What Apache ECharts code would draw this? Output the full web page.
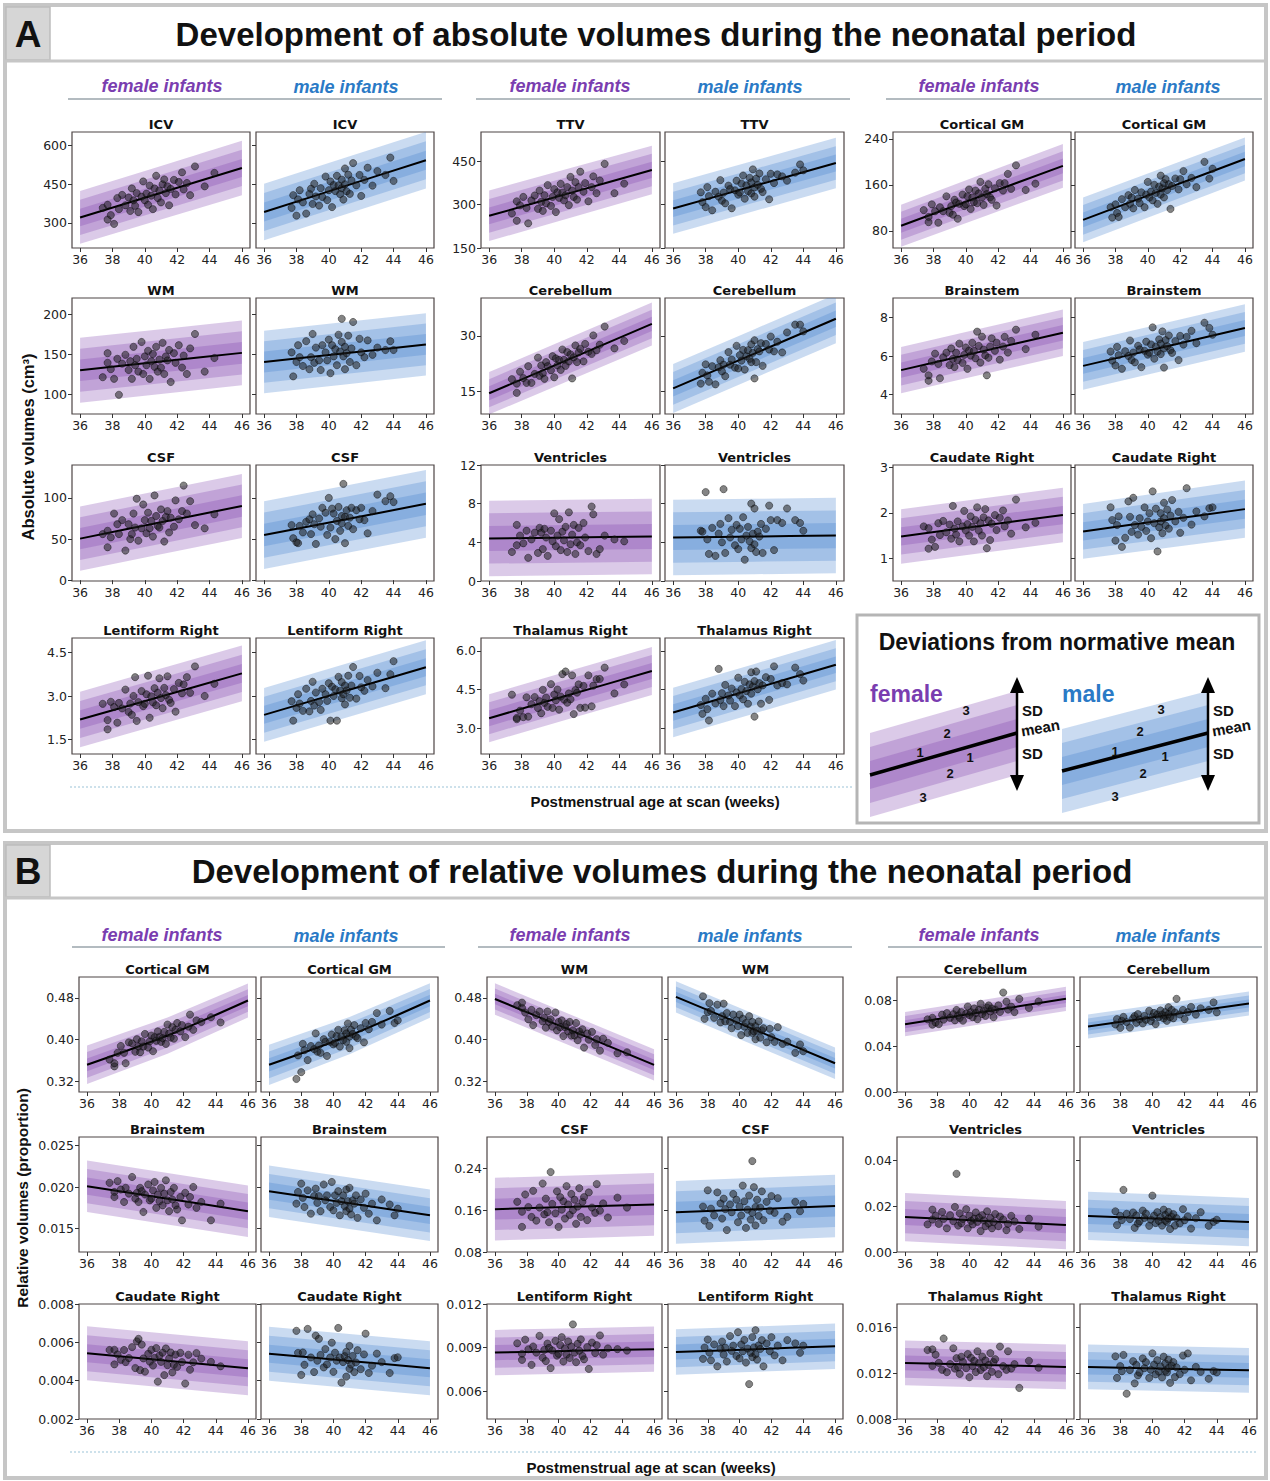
<!DOCTYPE html>
<html><head><meta charset="utf-8">
<script src="https://cdn.jsdelivr.net/npm/echarts@6/dist/echarts.min.js"></script>
<style>html,body{margin:0;padding:0;background:#fff}#c{width:1270px;height:1481px}</style>
</head><body><div id="c"></div>
<script>
// ---------------- DATA ----------------
const xTicks = [36, 38, 40, 42, 44, 46];
const femaleAge = [37.4,37.7,37.7,37.9,38.1,38.3,38.4,38.6,38.8,39.0,39.1,39.2,39.3,39.4,39.5,39.6,39.8,39.9,40.0,40.1,40.2,40.3,40.4,40.5,40.6,40.7,40.8,40.9,41.0,41.1,41.2,41.3,41.4,41.5,41.6,41.8,41.9,42.1,42.3,42.4,42.6,42.8,43.1,43.7,44.3];
const maleAge = [37.7,37.8,38.0,38.1,38.2,38.4,38.6,38.8,38.9,39.0,39.1,39.2,39.4,39.5,39.6,39.8,39.9,40.0,40.1,40.2,40.3,40.4,40.5,40.6,40.7,40.8,40.8,40.9,41.0,41.0,41.1,41.2,41.3,41.4,41.5,41.7,41.9,42.0,42.2,42.4,42.7,43.0,43.5,43.8,44.0];

// Panel A : absolute volumes
const regionsA = ['ICV','TTV','Cortical GM','WM','Cerebellum','Brainstem','CSF','Ventricles','Caudate Right','Lentiform Right','Thalamus Right'];
const yMinA = [203,150,50,75,8.9,3,-1,0,0.5,1.0,2.0];
const yMaxA = [651,550,252,220,40.2,9,140,12,3.05,5.0,6.5];
const yTicksA = [[300,450,600],[150,300,450],[80,160,240],[100,150,200],[15,30],[4,6,8],[0,50,100],[0,4,8,12],[1,2,3],[1.5,3.0,4.5],[3.0,4.5,6.0]];
const yDecA = [0,0,0,0,0,0,0,0,0,1,1];
// normative mean at 36 / 41 / 46 weeks, SD at 36 / 46 weeks
const meanA_F = [[321,416.5,512],[261,340,419],[88.7,141,193],[129.7,140.5,151.4],[14.5,23.85,33.2],[5.27,6.24,7.2],[50.5,70.4,90.2],[4.4,4.5,4.6],[1.48,1.715,1.95],[2.19,2.985,3.78],[3.39,4.305,5.22]];
const sdA_F = [[34,35],[29,28],[12.2,12.7],[13.5,13.5],[1.9,1.93],[0.4,0.4],[13,13],[1.3,1.3],[0.2,0.2],[0.32,0.32],[0.31,0.31]];
const meanA_M = [[342,442,542],[286,364.5,443],[99,152,205],[140,151,162],[15.8,25.2,34.6],[5.49,6.47,7.45],[54.8,73.8,92.8],[4.5,4.6,4.7],[1.59,1.835,2.08],[2.35,3.17,3.99],[3.61,4.535,5.46]];
const sdA_M = [[36.5,36.5],[29,29],[13,12.5],[13,13],[2.2,2.2],[0.41,0.41],[13.7,13.7],[1.3,1.3],[0.2,0.21],[0.31,0.31],[0.32,0.32]];

const absF_ICV = [358,313,370,330,296,396,353,408,368,398,346,433,387,366,415,342,401,460,387,413,370,444,405,353,433,482,396,425,379,449,468,415,441,368,431,466,410,458,495,429,454,407,518,441,493];
const absM_ICV = [358,407,328,391,426,379,336,412,432,373,451,402,367,434,400,479,388,426,460,361,446,423,482,445,411,434,467,390,510,449,422,486,412,464,531,445,485,404,466,513,444,500,485,552,462];
const absF_TTV = [269,311,244,297,326,288,235,314,331,285,348,309,278,332,304,367,295,326,353,274,342,323,371,341,314,332,360,298,395,348,326,377,317,360,413,344,374,311,360,397,339,383,440,339,372];
const absM_TTV = [342,308,291,360,329,280,344,327,384,313,341,304,365,353,287,349,382,334,341,372,400,320,366,346,392,338,376,421,359,327,389,368,407,354,343,387,318,406,374,404,397,382,410,438,418];
const absF_CGM = [116,104,95,126,114,94,121,114,140,111,123,108,134,129,101,127,143,123,126,140,152,118,138,130,150,128,145,165,138,125,153,144,161,138,134,154,124,163,150,163,179,153,194,151,162];
const absM_CGM = [121,103,126,111,104,135,121,142,127,138,119,151,136,128,147,121,143,165,138,148,133,160,146,127,157,176,143,154,138,163,170,151,161,118,158,171,152,170,184,161,172,156,200,171,188];
const absF_WM = [121,139,151,131,119,144,99,138,149,130,141,119,159,136,144,128,165,125,147,136,154,119,141,150,134,159,128,143,133,164,125,147,142,155,115,151,139,161,133,148,125,157,175,128,145];
const absM_WM = [152,122,140,161,146,135,166,131,146,175,139,158,142,130,161,152,142,168,126,161,147,156,136,174,153,194,165,147,159,131,151,173,140,157,190,136,169,152,146,167,149,158,155,166,155];
const absF_Cereb = [18.3,14.6,17.1,20.3,18.6,17.3,21.8,17.3,19.7,24.1,19.2,22.0,19.9,18.4,22.9,21.8,20.7,24.5,18.8,23.9,22.0,23.5,20.8,26.3,23.5,21.9,25.6,23.1,25.0,18.5,24.2,27.4,22.9,25.5,26.5,23.1,27.8,25.7,25.1,30.1,26.1,27.6,32.5,26.6,28.6];
const absM_Cereb = [17.1,20.0,22.3,19.3,17.6,21.8,16.9,21.5,23.4,20.4,22.2,19.1,25.6,22.2,23.6,21.4,27.3,21.2,24.8,23.3,26.2,20.9,24.5,26.1,23.8,27.7,22.9,25.4,18.5,28.8,22.9,26.4,25.8,28.0,21.9,27.8,26.3,29.8,25.8,28.4,25.5,30.9,33.0,33.0,31.2];
const absF_Brainstem = [5.34,4.72,5.0,5.72,6.12,5.59,4.85,5.93,6.17,5.53,6.39,5.85,5.43,6.17,5.79,6.64,5.64,6.06,6.44,5.34,6.28,6.02,6.68,6.26,5.88,7.26,6.52,5.66,7.0,6.33,6.03,5.0,5.91,6.49,6.91,6.27,6.69,5.81,6.49,6.99,6.18,6.78,7.36,6.36,7.1];
const absM_Brainstem = [6.23,5.76,5.51,6.47,6.04,5.34,6.25,6.0,6.8,5.79,6.18,5.67,6.53,6.34,5.42,6.27,6.74,6.07,6.17,6.6,7.48,5.86,6.49,6.23,6.86,6.1,6.64,7.27,6.39,5.4,6.82,6.51,7.06,6.3,6.16,6.77,5.79,7.04,6.59,6.99,7.3,6.66,7.72,7.45,7.1];
const absF_CSF = [56,40,60,52,81,68,56,73,36,68,50,56,81,64,99,48,63,92,73,57,82,63,72,53,103,78,66,64,86,72,47,77,84,58,76,65,97,74,84,115,81,96,67,63,80];
const absM_CSF = [67,51,46,45,66,58,71,74,56,80,68,44,75,65,88,82,55,100,64,87,81,50,72,89,60,78,69,117,77,45,85,66,76,88,62,85,74,88,73,57,84,104,96,102,95];
const absF_Vent = [3.0,5.8,3.7,4.7,3.9,5.2,2.4,4.3,5.0,2.9,5.5,5.0,3.3,5.4,4.5,2.6,5.2,4.1,7.0,3.6,4.7,6.4,3.2,5.1,4.2,5.6,3.0,7.1,3.8,4.8,5.8,2.8,4.0,5.5,3.7,6.0,4.5,3.1,7.7,6.9,2.8,3.3,4.7,4.3,4.1];
const absM_Vent = [5.2,5.1,9.2,4.3,2.8,5.5,2.6,4.9,5.9,4.0,9.5,2.9,6.5,4.5,5.3,3.7,5.8,3.3,5.4,4.3,6.6,2.2,4.7,5.6,4.1,8.0,3.4,4.9,3.8,7.5,3.0,5.1,4.6,5.9,2.9,5.4,7.8,6.3,3.2,6.3,6.0,7.5,6.3,6.0,5.2];
const absF_Caud = [1.70,1.21,1.66,1.41,1.25,1.77,1.51,1.82,1.57,1.74,1.43,2.15,1.65,1.52,1.81,1.37,1.70,2.04,1.61,1.75,1.50,1.92,1.69,1.37,1.84,2.12,1.61,1.77,1.50,1.90,2.08,1.22,1.83,1.40,1.76,1.95,1.62,1.89,2.05,1.70,1.83,1.54,2.29,1.68,1.78];
const absM_Caud = [2.12,1.84,1.39,1.73,1.92,1.25,1.45,2.25,1.91,1.58,2.33,1.73,1.52,1.88,1.69,2.12,1.60,1.81,1.99,1.44,2.47,1.77,2.09,1.15,1.68,1.81,1.99,1.55,2.22,1.88,1.72,2.07,1.65,1.94,2.28,1.81,2.02,1.56,1.89,2.54,1.74,2.03,1.92,2.10,2.12];
const absF_Lent = [2.73,1.85,2.17,2.80,2.62,2.08,2.76,2.57,3.22,2.45,2.74,2.35,3.00,3.65,2.14,2.79,3.17,2.65,2.73,3.06,3.70,2.25,2.99,2.78,3.27,2.68,3.11,3.61,2.93,2.58,3.28,3.03,3.68,2.87,2.76,3.24,2.46,3.45,3.09,3.40,3.65,3.11,4.02,3.00,3.42];
const absM_Lent = [2.82,2.15,2.59,3.06,2.74,2.49,3.25,2.47,2.83,3.49,2.67,3.12,2.79,2.52,3.25,3.06,2.83,3.44,2.15,3.32,3.00,3.23,2.15,3.66,3.18,2.92,3.48,3.06,3.36,2.71,3.19,3.70,2.94,3.36,4.00,2.91,3.69,3.30,3.18,3.55,3.33,3.80,3.27,3.75,4.20];
const absF_Thal = [4.30,3.35,3.40,3.68,3.43,4.20,3.45,3.93,4.21,3.78,4.05,3.58,4.49,3.98,4.19,3.83,4.71,3.79,4.31,4.08,4.50,3.72,4.23,5.10,4.11,5.20,3.99,4.35,4.12,5.05,3.55,4.48,4.38,4.70,3.79,4.64,3.80,5.05,3.85,4.65,4.90,4.91,5.35,4.35,4.70];
const absM_Thal = [3.90,3.56,4.14,3.74,3.30,4.34,3.96,5.30,4.09,4.36,3.86,4.68,4.27,4.07,4.54,3.86,4.39,4.96,4.27,4.52,4.12,4.80,4.44,3.95,4.70,5.17,4.34,4.62,3.45,4.83,5.20,4.51,4.75,3.95,4.66,4.98,4.10,4.91,5.40,4.66,4.75,4.70,5.35,5.10,4.85];
const absFemale = [absF_ICV,absF_TTV,absF_CGM,absF_WM,absF_Cereb,absF_Brainstem,absF_CSF,absF_Vent,absF_Caud,absF_Lent,absF_Thal];
const absMale = [absM_ICV,absM_TTV,absM_CGM,absM_WM,absM_Cereb,absM_Brainstem,absM_CSF,absM_Vent,absM_Caud,absM_Lent,absM_Thal];

// Panel B : relative volumes
const regionsB = ['Cortical GM','WM','Cerebellum','Brainstem','CSF','Ventricles','Caudate Right','Lentiform Right','Thalamus Right'];
const yMinB = [0.30,0.30,0,0.0122,0.08,0,0.002,0.0041,0.008];
const yMaxB = [0.52,0.52,0.10,0.026,0.30,0.05,0.008,0.012,0.018];
const yTicksB = [[0.32,0.40,0.48],[0.32,0.40,0.48],[0,0.04,0.08],[0.015,0.020,0.025],[0.08,0.16,0.24],[0,0.02,0.04],[0.002,0.004,0.006,0.008],[0.006,0.009,0.012],[0.008,0.012,0.016]];
const yDecB = [2,2,2,3,2,2,3,3,3];
const meanB_F = [[0.352,0.408,0.475],[0.478,0.415,0.352],[0.059,0.070,0.081],[0.0201,0.0186,0.0171],[0.162,0.1665,0.171],[0.0152,0.01345,0.0117],[0.00543,0.00504,0.00465],[0.00866,0.00878,0.0089],[0.01288,0.0127,0.01253]];
const sdB_F = [[0.0123,0.0108],[0.010,0.010],[0.0035,0.0035],[0.00103,0.00103],[0.020,0.020],[0.0035,0.0035],[0.00047,0.00047],[0.00052,0.00052],[0.00065,0.00065]];
const meanB_M = [[0.352,0.408,0.475],[0.482,0.4185,0.355],[0.057,0.067,0.077],[0.0195,0.01805,0.0166],[0.156,0.162,0.168],[0.0157,0.01435,0.013],[0.0054,0.00503,0.00465],[0.0087,0.0089,0.0091],[0.01253,0.01238,0.01223]];
const sdB_M = [[0.0128,0.011],[0.010,0.010],[0.0035,0.0035],[0.00103,0.00103],[0.020,0.020],[0.0035,0.0035],[0.00047,0.00047],[0.00052,0.00052],[0.00065,0.00065]];

const relF_CGM = [0.362,0.349,0.355,0.375,0.388,0.375,0.355,0.395,0.393,0.377,0.401,0.387,0.376,0.397,0.387,0.411,0.385,0.397,0.408,0.378,0.405,0.398,0.416,0.405,0.396,0.403,0.415,0.392,0.429,0.412,0.404,0.424,0.402,0.419,0.432,0.416,0.428,0.405,0.425,0.448,0.419,0.437,0.434,0.443,0.433];
const relM_CGM = [0.325,0.370,0.338,0.392,0.380,0.361,0.388,0.382,0.412,0.377,0.389,0.375,0.401,0.396,0.369,0.396,0.410,0.391,0.394,0.407,0.419,0.387,0.406,0.399,0.418,0.396,0.412,0.431,0.406,0.384,0.419,0.411,0.428,0.406,0.403,0.422,0.395,0.432,0.420,0.434,0.451,0.429,0.455,0.432,0.437];
const relF_WM = [0.466,0.461,0.471,0.452,0.439,0.457,0.428,0.447,0.454,0.435,0.442,0.423,0.454,0.434,0.439,0.425,0.452,0.418,0.434,0.424,0.437,0.407,0.424,0.430,0.416,0.434,0.408,0.418,0.408,0.432,0.399,0.416,0.410,0.420,0.385,0.412,0.400,0.415,0.390,0.401,0.379,0.402,0.394,0.374,0.376];
const relM_WM = [0.483,0.440,0.453,0.470,0.455,0.442,0.467,0.433,0.445,0.469,0.435,0.451,0.434,0.422,0.448,0.437,0.426,0.448,0.409,0.440,0.425,0.432,0.413,0.445,0.425,0.413,0.434,0.416,0.426,0.401,0.417,0.435,0.404,0.418,0.422,0.395,0.421,0.405,0.396,0.424,0.392,0.396,0.375,0.391,0.378];
const relF_Cereb = [0.0632,0.0585,0.0645,0.0604,0.059,0.0672,0.0629,0.0686,0.0645,0.0677,0.0623,0.0713,0.0666,0.0644,0.0695,0.0620,0.0681,0.0743,0.0668,0.0694,0.0651,0.0727,0.0687,0.0633,0.0716,0.0767,0.0678,0.0708,0.0662,0.0734,0.0753,0.0700,0.0726,0.0651,0.0717,0.0753,0.0696,0.0865,0.0785,0.0717,0.0742,0.0695,0.0809,0.0731,0.0787];
const relM_Cereb = [0.0587,0.0634,0.0558,0.0619,0.0653,0.0608,0.056,0.0640,0.0660,0.0602,0.0678,0.0631,0.0596,0.0661,0.0628,0.0706,0.0617,0.0654,0.0687,0.0591,0.0674,0.0651,0.0709,0.0673,0.0640,0.0663,0.0694,0.0619,0.0737,0.0677,0.0651,0.0713,0.0641,0.0692,0.081,0.0674,0.0713,0.0634,0.0694,0.0740,0.0673,0.0728,0.0713,0.0779,0.0692];
const relF_Brainstem = [0.0205,0.0194,0.0188,0.0207,0.0197,0.0182,0.0199,0.0192,0.0212,0.0186,0.0193,0.0182,0.0199,0.0195,0.0170,0.0191,0.0203,0.0184,0.0186,0.0196,0.0206,0.0175,0.0191,0.0183,0.0199,0.0178,0.0192,0.0208,0.0184,0.0171,0.0194,0.0185,0.0199,0.0178,0.0173,0.0188,0.0160,0.0193,0.0179,0.0188,0.0200,0.0175,0.0182,0.0160,0.0180];
const relM_Brainstem = [0.0180,0.0194,0.0204,0.0187,0.0176,0.0196,0.0168,0.0189,0.0198,0.0181,0.0189,0.0171,0.0203,0.0184,0.0190,0.0176,0.0206,0.0172,0.0190,0.0181,0.0195,0.0166,0.0183,0.0190,0.0177,0.0197,0.0171,0.0183,0.0174,0.0199,0.0167,0.0184,0.0180,0.0190,0.0163,0.0185,0.0175,0.0192,0.0168,0.0180,0.0160,0.0185,0.0179,0.0166,0.0174];
const relF_CSF = [0.176,0.128,0.157,0.190,0.166,0.147,0.197,0.140,0.165,0.211,0.152,0.182,0.156,0.137,0.233,0.172,0.154,0.196,0.128,0.185,0.161,0.177,0.144,0.206,0.171,0.151,0.191,0.160,0.180,0.134,0.167,0.202,0.147,0.176,0.185,0.141,0.194,0.165,0.155,0.210,0.159,0.173,0.146,0.184,0.165];
const relM_CSF = [0.167,0.140,0.198,0.130,0.163,0.150,0.194,0.173,0.144,0.182,0.162,0.122,0.171,0.156,0.191,0.180,0.137,0.167,0.150,0.207,0.177,0.126,0.161,0.188,0.142,0.254,0.155,0.204,0.166,0.131,0.180,0.149,0.165,0.196,0.141,0.176,0.159,0.187,0.155,0.183,0.138,0.147,0.176,0.158,0.172];
const relF_Vent = [0.0120,0.0184,0.0141,0.0158,0.0122,0.0174,0.0144,0.0103,0.0160,0.0134,0.0196,0.0340,0.0115,0.0168,0.0125,0.0144,0.0186,0.0103,0.0158,0.0135,0.0120,0.0145,0.0172,0.0131,0.0149,0.0091,0.0160,0.0137,0.0112,0.0177,0.0124,0.0148,0.0103,0.0130,0.0165,0.0112,0.0154,0.0141,0.0095,0.0122,0.0157,0.0133,0.0100,0.0145,0.0110];
const relM_Vent = [0.0177,0.0117,0.0157,0.0139,0.0270,0.0166,0.0143,0.0172,0.0105,0.0159,0.0124,0.0133,0.0180,0.0148,0.0167,0.0114,0.0141,0.0245,0.0158,0.0126,0.0173,0.0135,0.0152,0.0115,0.0184,0.0161,0.0136,0.0131,0.0174,0.0146,0.0100,0.0153,0.0165,0.0115,0.0147,0.0124,0.0186,0.0138,0.0155,0.0102,0.0147,0.0173,0.0114,0.0131,0.0140];
const relF_Caud = [0.00560,0.00561,0.00485,0.00537,0.00509,0.00560,0.00497,0.00518,0.00575,0.00466,0.00605,0.00618,0.00455,0.00588,0.00516,0.00447,0.00540,0.00499,0.00561,0.00479,0.00519,0.00570,0.00395,0.00531,0.00498,0.00546,0.00429,0.00568,0.00481,0.00516,0.00547,0.00443,0.00483,0.00536,0.00472,0.00545,0.00497,0.00385,0.00535,0.00457,0.00496,0.00544,0.00515,0.00498,0.00475];
const relM_Caud = [0.00660,0.00545,0.00430,0.00547,0.00483,0.00670,0.00521,0.00445,0.00635,0.00504,0.00618,0.00534,0.00469,0.00565,0.00485,0.00521,0.00598,0.00446,0.00546,0.00504,0.00675,0.00521,0.00390,0.00497,0.00528,0.00421,0.00550,0.00508,0.00462,0.00581,0.00484,0.00529,0.00445,0.00495,0.00559,0.00460,0.00537,0.00645,0.00440,0.00478,0.00541,0.00497,0.00440,0.00518,0.00522];
const relF_Lent = [0.00930,0.00858,0.00816,0.00955,0.00889,0.00782,0.00908,0.00866,0.00981,0.00831,0.00885,0.00808,0.00928,0.00898,0.00760,0.00881,0.00947,0.00845,0.00858,0.00918,0.00972,0.00805,0.00895,0.00853,0.00943,0.00829,0.00908,0.01060,0.00866,0.00800,0.00927,0.00879,0.00957,0.00843,0.00820,0.00904,0.00754,0.00935,0.00863,0.00917,0.00984,0.00852,0.00895,0.00890,0.00880];
const relM_Lent = [0.00823,0.00901,0.00956,0.00866,0.00813,0.00922,0.00772,0.00893,0.00942,0.00852,0.00900,0.00805,0.00980,0.00878,0.00914,0.00843,0.01006,0.00826,0.00922,0.00875,0.00953,0.00798,0.00894,0.00650,0.00865,0.00973,0.00835,0.00902,0.00854,0.01020,0.00818,0.00915,0.00891,0.00952,0.00772,0.00929,0.00876,0.00972,0.00847,0.00914,0.00813,0.00952,0.00930,0.00865,0.00914];
const relF_Thal = [0.01400,0.01405,0.01262,0.01359,0.01288,0.01228,0.01500,0.01207,0.01278,0.01415,0.01238,0.01329,0.01250,0.01192,0.01341,0.01295,0.01242,0.01365,0.01163,0.01332,0.01260,0.01305,0.01208,0.01389,0.01285,0.01226,0.01343,0.01251,0.01309,0.01172,0.01270,0.01373,0.01210,0.01295,0.01320,0.01190,0.01430,0.01260,0.01227,0.01389,0.01239,0.01277,0.01070,0.01306,0.01246];
const relM_Thal = [0.01345,0.01157,0.01260,0.01215,0.01357,0.01020,0.01226,0.01303,0.01110,0.01270,0.01179,0.01204,0.01327,0.01242,0.01294,0.01157,0.01228,0.01371,0.01273,0.01188,0.01311,0.01213,0.01258,0.01161,0.01342,0.01283,0.01218,0.01205,0.01316,0.01244,0.01114,0.01263,0.01295,0.01165,0.01249,0.01190,0.01352,0.01228,0.01370,0.01136,0.01253,0.01210,0.01150,0.01217,0.01205];
const relFemale = [relF_CGM,relF_WM,relF_Cereb,relF_Brainstem,relF_CSF,relF_Vent,relF_Caud,relF_Lent,relF_Thal];
const relMale = [relM_CGM,relM_WM,relM_Cereb,relM_Brainstem,relM_CSF,relM_Vent,relM_Caud,relM_Lent,relM_Thal];

// ---------------- LAYOUT & STYLE ----------------
const FEMALE_BAND = 'rgba(125,63,174,0.28)';
const MALE_BAND = 'rgba(63,127,204,0.28)';
const FEMALE_TXT = '#7a3db0';
const MALE_TXT = '#2a7ac6';
const layoutA = {colF:[72,481,893], colM:[256,665,1075], w:[178,179,178], rows:[132,298,465,638], h:116};
const layoutB = {colF:[79,487,897], colM:[261,668,1080], w:[177,175,177], rows:[977,1137,1304], h:115};

const grids = [], xAxes = [], yAxes = [], series = [], graphics = [];

function txt(x, y, text, font, fill, align, rot) {
  return {type:'text', x:x, y:y, rotation:rot||0, z:20,
    style:{text:text, font:font, fill:fill||'#111', align:align||'center', verticalAlign:'middle',
           textAlign:align||'center', textVerticalAlign:'middle'}};
}
function line(x1, y1, x2, y2, stroke, w, dash) {
  return {type:'line', z:15, shape:{x1:x1,y1:y1,x2:x2,y2:y2}, style:{stroke:stroke, lineWidth:w, lineDash:dash||null}};
}
function rect(x, y, w, h, fill, stroke, lw) {
  return {type:'rect', z:1, shape:{x:x,y:y,width:w,height:h}, style:{fill:fill, stroke:stroke, lineWidth:lw||0}};
}

function addPlot(name, left, top, w, h, ymin, ymax, ticks, dec, mean, sd, ages, vals, isFemale) {
  const i = grids.length;
  const bandColor = isFemale ? FEMALE_BAND : MALE_BAND;
  grids.push({left:left, top:top, width:w, height:h, show:true, backgroundColor:'#fff',
              borderColor:'#4d4545', borderWidth:1.2});
  xAxes.push({gridIndex:i, type:'value', min:35.5, max:46.5,
    axisLine:{show:false}, splitLine:{show:false},
    axisTick:{show:true, customValues:xTicks, length:4, lineStyle:{color:'#333', width:1}},
    axisLabel:{customValues:xTicks, fontSize:12.5, color:'#222', margin:5, fontFamily:'DejaVu Sans'}});
  yAxes.push({gridIndex:i, type:'value', min:ymin, max:ymax,
    axisLine:{show:false}, splitLine:{show:false},
    axisTick:{show:true, customValues:ticks, length:4, lineStyle:{color:'#333', width:1}},
    axisLabel:{show:isFemale, customValues:ticks, fontSize:12.5, color:'#222', margin:5,
               fontFamily:'DejaVu Sans', formatter:function(v){ return Number(v).toFixed(dec); }}});
  const xs = [36, 41, 46];
  const sds = [sd[0], (sd[0]+sd[1])/2, sd[1]];
  series.push({type:'custom', xAxisIndex:i, yAxisIndex:i, clip:true, silent:true, z:2,
    data:[[3],[2],[1]],
    renderItem:function(params, api){
      const k = api.value(0);
      const up = xs.map(function(x,j){ return api.coord([x, mean[j] + k*sds[j]]); });
      const lo = xs.map(function(x,j){ return api.coord([x, mean[j] - k*sds[j]]); }).reverse();
      return {type:'polygon', shape:{points:up.concat(lo)}, style:{fill:bandColor}};
    }});
  series.push({type:'line', xAxisIndex:i, yAxisIndex:i, silent:true, z:3, smooth:0.3, symbol:'none',
    data:xs.map(function(x,j){ return [x, mean[j]]; }),
    lineStyle:{color:'#000', width:2}});
  series.push({type:'scatter', xAxisIndex:i, yAxisIndex:i, silent:true, z:4, symbolSize:7.2,
    data:ages.map(function(a,k){ return [a, vals[k]]; }),
    itemStyle:{color:'rgba(30,30,30,0.68)', borderColor:'rgba(0,0,0,0.85)', borderWidth:0.6}});
  graphics.push(txt(left + w/2, top - 8, name, 'bold 13px "DejaVu Sans"', '#111'));
}

regionsA.forEach(function(r, i){
  const g = i % 3, row = Math.floor(i / 3);
  const L = layoutA;
  addPlot(r, L.colF[g], L.rows[row], L.w[g], L.h, yMinA[i], yMaxA[i], yTicksA[i], yDecA[i], meanA_F[i], sdA_F[i], femaleAge, absFemale[i], true);
  addPlot(r, L.colM[g], L.rows[row], L.w[g], L.h, yMinA[i], yMaxA[i], yTicksA[i], yDecA[i], meanA_M[i], sdA_M[i], maleAge, absMale[i], false);
});
regionsB.forEach(function(r, i){
  const g = i % 3, row = Math.floor(i / 3);
  const L = layoutB;
  addPlot(r, L.colF[g], L.rows[row], L.w[g], L.h, yMinB[i], yMaxB[i], yTicksB[i], yDecB[i], meanB_F[i], sdB_F[i], femaleAge, relFemale[i], true);
  addPlot(r, L.colM[g], L.rows[row], L.w[g], L.h, yMinB[i], yMaxB[i], yTicksB[i], yDecB[i], meanB_M[i], sdB_M[i], maleAge, relMale[i], false);
});

// ---------------- DECORATION ----------------
function panel(top, height, headerH, letter, title, titleX) {
  graphics.push(rect(5, top, 1261, height, 'none', '#c6c6c6', 4));
  graphics.push(rect(6, top + 2, 44, headerH - 3, '#d6d6d6', '#bdbdbd', 1.5));
  graphics.push(line(5, top + headerH, 1266, top + headerH, '#c6c6c6', 3));
  graphics.push(txt(28, top + headerH/2 + 1, letter, 'bold 37px "Liberation Sans"', '#111'));
  graphics.push(txt(titleX, top + headerH/2 + 1, title, 'bold 33px "Liberation Sans"', '#111'));
}
panel(5, 826, 56, 'A', 'Development of absolute volumes during the neonatal period', 656);
panel(843, 635, 55, 'B', 'Development of relative volumes during the neonatal period', 662);

function groupHeaders(y, lineY, fx, mx, lx1, lx2) {
  for (let g = 0; g < 3; g++) {
    graphics.push(txt(fx[g], y, 'female infants', 'italic bold 18px "Liberation Sans"', FEMALE_TXT));
    graphics.push(txt(mx[g], y + 1, 'male infants', 'italic bold 18px "Liberation Sans"', MALE_TXT));
    graphics.push(line(lx1[g], lineY, lx2[g], lineY, '#9aa4ab', 1.5));
  }
}
groupHeaders(86, 99, [162,570,979], [346,750,1168], [68,476,886], [442,850,1262]);
groupHeaders(935, 947, [162,570,979], [346,750,1168], [72,478,888], [445,852,1262]);

graphics.push(txt(28, 447, 'Absolute volumes (cm³)', 'bold 16.5px "Liberation Sans"', '#111', 'center', Math.PI/2));
graphics.push(txt(22, 1198, 'Relative volumes (proportion)', 'bold 15.5px "Liberation Sans"', '#111', 'center', Math.PI/2));
graphics.push(line(70, 787, 852, 787, '#9cc4d8', 1.2, [2,2]));
graphics.push(txt(655, 801, 'Postmenstrual age at scan (weeks)', 'bold 15px "Liberation Sans"', '#111'));
graphics.push(line(70, 1452, 1258, 1452, '#9cc4d8', 1.2, [2,2]));
graphics.push(txt(651, 1467, 'Postmenstrual age at scan (weeks)', 'bold 15px "Liberation Sans"', '#111'));

// legend box (schematic key)
graphics.push(rect(857, 615, 402, 208, 'none', '#b5b5b5', 3));
graphics.push(txt(1057, 642, 'Deviations from normative mean', 'bold 23px "Liberation Sans"', '#111'));
function keyBands(x0, x1, y0, y1, color, label, labelX, labelColor, nums) {
  [42, 28, 14].forEach(function(k){
    graphics.push({type:'polygon', z:12, shape:{points:[[x0,y0-k],[x1,y1-k],[x1,y1+k],[x0,y0+k]]}, style:{fill:color}});
  });
  graphics.push(line(x0, y0, x1, y1, '#000', 3.5));
  graphics.push(line(x1, y1 - 48, x1, y1 + 47, '#000', 2.5));
  graphics.push({type:'polygon', z:16, shape:{points:[[x1,y1-56],[x1-7,y1-40],[x1+7,y1-40]]}, style:{fill:'#000'}});
  graphics.push({type:'polygon', z:16, shape:{points:[[x1,y1+58],[x1-7,y1+42],[x1+7,y1+42]]}, style:{fill:'#000'}});
  graphics.push(txt(x1 + 5, y1 - 23, 'SD', 'bold 15px "Liberation Sans"', '#111', 'left'));
  graphics.push(txt(x1 + 4, y1 - 2, 'mean', 'bold 15px "Liberation Sans"', '#111', 'left', 0.17));
  graphics.push(txt(x1 + 5, y1 + 20, 'SD', 'bold 15px "Liberation Sans"', '#111', 'left'));
  graphics.push(txt(labelX, y1 - 39, label, 'bold 23px "Liberation Sans"', labelColor, 'left'));
  nums.forEach(function(n){ graphics.push(txt(n[0], n[1], n[2], 'bold 13px "Liberation Sans"', '#111')); });
}
keyBands(870, 1017, 775, 733, FEMALE_BAND, 'female', 870, FEMALE_TXT,
  [[966,710,'3'],[947,733,'2'],[920,752,'1'],[970,757,'1'],[950,773,'2'],[923,797,'3']]);
keyBands(1062, 1208, 771, 733, MALE_BAND, 'male', 1062, MALE_TXT,
  [[1161,709,'3'],[1140,731,'2'],[1115,751,'1'],[1165,756,'1'],[1143,773,'2'],[1115,796,'3']]);

const chart = echarts.init(document.getElementById('c'), null, {renderer:'svg', width:1270, height:1481});
chart.setOption({
  backgroundColor:'#ffffff',
  animation:false,
  grid:grids, xAxis:xAxes, yAxis:yAxes, series:series,
  graphic:{elements:graphics}
});
</script>
</body></html>
